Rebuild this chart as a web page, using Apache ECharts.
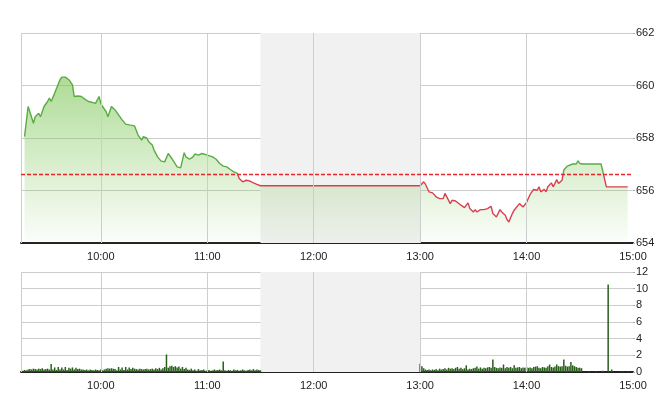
<!DOCTYPE html>
<html><head><meta charset="utf-8">
<script src="https://cdn.jsdelivr.net/npm/echarts@6/dist/echarts.min.js"></script>
<style>html,body{margin:0;padding:0;background:#fff}#c{width:660px;height:412px}</style>
</head><body><div id="c"></div><script>
// ---- data ----
const priceTimes = ['9:17','9:19','9:20','9:22','9:23','9:25','9:26','9:28','9:30','9:31','9:32','9:34','9:35','9:37','9:38','9:40','9:42','9:44','9:45','9:46','9:47','9:49','9:51','9:53','9:55','9:57','9:59','10:00','10:01','10:03','10:04','10:06','10:08','10:10','10:12','10:14','10:16','10:17','10:19','10:20','10:21','10:23','10:24','10:26','10:27','10:29','10:30','10:32','10:34','10:36','10:37','10:38','10:40','10:41','10:43','10:45','10:46','10:47','10:48','10:49','10:50','10:52','10:53','10:55','10:57','10:58','11:00','11:01','11:03','11:05','11:07','11:09','11:11','11:13','11:15','11:17','11:18','11:20','11:22','11:24','11:26','11:28','11:30',
'13:00','13:02','13:03','13:05','13:06','13:07','13:09','13:11','13:13','13:14','13:15','13:17','13:18','13:20','13:21','13:23','13:25','13:27','13:28','13:30','13:31','13:32','13:34','13:36','13:38','13:40','13:41','13:43','13:45','13:46','13:48','13:49','13:50','13:52','13:53','13:54','13:56','13:58','14:00','14:02','14:04','14:06','14:07','14:08','14:10','14:11','14:12','14:14','14:15','14:16','14:17','14:18','14:20','14:21','14:23','14:24','14:26','14:28','14:29','14:30','14:32','14:42','14:45','14:47','14:57'];
const priceValues = [658.05,659.20,659.00,658.56,658.81,658.94,658.81,659.20,659.39,659.52,659.39,659.71,659.64,660.22,660.32,660.32,660.22,660.02,659.58,659.52,659.60,659.58,659.48,659.39,659.36,659.32,659.58,659.32,659.20,659.00,658.81,659.20,659.07,658.88,658.69,658.53,658.50,658.46,658.46,658.43,658.11,657.92,658.05,657.99,657.86,657.73,657.54,657.28,657.12,657.09,657.03,657.41,657.22,657.19,656.90,656.86,656.90,657.44,657.28,657.35,657.19,657.28,657.39,657.35,657.41,657.44,657.35,657.35,657.28,657.19,657.03,656.93,656.90,656.80,656.71,656.65,656.46,656.33,656.39,656.36,656.29,656.23,656.18,
656.18,656.33,656.24,655.95,655.89,655.91,655.76,655.69,655.69,655.89,655.82,655.50,655.63,655.60,655.53,655.44,655.35,655.53,655.31,655.18,655.27,655.18,655.27,655.27,655.31,655.40,655.12,654.99,655.27,655.18,655.06,654.89,654.80,655.12,655.25,655.27,655.50,655.37,655.55,655.85,656.04,656.01,656.14,655.95,656.04,655.95,656.14,656.29,656.14,656.27,656.42,656.27,656.39,656.78,656.93,656.93,657.01,657.01,657.13,657.03,657.01,657.01,656.14,656.14,656.14];
const refPrice = 656.6;

const volMorningStart = '9:16';
const volMorning = [0.15,0.25,0.2,0.3,
0.35,0.3,0.4,0.35,0.3,0.4,0.35,0.45,0.3,0.35,
0.4,0.3,0.95,0.3,0.55,0.25,0.6,0.3,0.55,0.3,
0.6,0.25,0.5,0.4,0.55,0.3,0.5,0.35,0.4,0.3,
0.3,0.25,0.3,0.2,0.3,0.25,0.2,0.3,0.25,0.2,
0.3,0.2,0.3,0.4,0.45,0.4,0.45,0.4,0.35,0.2,
0.6,0.3,0.55,0.25,0.6,0.3,0.55,0.35,0.5,0.4,
0.35,0.3,0.4,0.35,0.3,0.35,0.4,0.3,0.35,0.4,
0.3,0.45,0.35,0.5,0.3,0.45,0.6,2.1,0.5,0.7,
0.75,0.6,0.7,0.55,0.65,0.4,0.6,0.35,0.5,0.3,
0.25,0.4,0.2,0.3,0.15,0.35,0.2,0.25,0.3,0.15,
0.2,0.25,0.15,0.2,0.3,0.2,0.25,0.3,0.2,1.25,
0.2,0.15,0.25,0.2,0.15,0.3,0.2,0.25,0.15,0.2,
0.3,0.2,0.15,0.25,0.3,0.2,0.35,0.2,0.3,0.25,
0.2];
const volAfternoonStart = '13:00';
const volAfternoon = [1.0,0.7,0.45,0.3,0.25,0.3,0.2,0.3,0.25,0.35,
0.2,0.4,0.3,0.35,0.45,0.3,0.5,0.4,0.45,0.35,
0.5,0.6,0.4,0.5,0.35,0.45,0.8,0.3,0.4,0.35,
0.45,0.5,0.65,0.4,0.55,0.4,0.5,0.45,0.55,0.6,
0.5,1.5,0.6,0.5,0.45,0.55,0.5,0.9,0.45,0.6,
0.5,0.6,0.45,0.8,0.5,0.55,0.6,0.45,0.55,0.5,
0.6,0.5,0.55,0.45,0.6,0.65,0.7,0.5,0.45,0.6,
0.55,0.5,0.7,0.9,0.6,0.55,0.65,0.9,0.7,0.65,
0.7,1.5,0.75,0.65,0.7,1.2,0.8,0.7,0.6,0.5,
0.5,0.45];
const volCloseTimes = ['14:35','14:39','14:43','14:46','14:48','14:54','14:57'];
const volClose = [0.1,0.1,0.15,10.5,0.3,0.1,0.1];

const sessionRange = ['9:15','15:00'];
const lunchBreak = ['11:30','13:00'];
const xTickLabels = ['10:00','11:00','12:00','13:00','14:00','15:00'];
const priceTicks = [654,656,658,660,662];
const volTicks = [0,2,4,6,8,10,12];

// ---- helpers ----
const toMin = s => { const p = s.split(':').map(Number); return p[0]*60 + p[1]; };
const fmt = v => Math.floor(v/60) + ':' + String(v%60).padStart(2,'0');
const hourMins = xTickLabels.map(toMin);

const priceData = priceTimes.map((t,i) => [toMin(t), priceValues[i]]);
const volData = [];
const ms = toMin(volMorningStart);
volMorning.forEach((v,i) => volData.push([ms+i, v]));
const as = toMin(volAfternoonStart);
volAfternoon.forEach((v,i) => volData.push([as+i, v]));
volCloseTimes.forEach((t,i) => volData.push([toMin(t), volClose[i]]));

const xMin = toMin(sessionRange[0]), xMax = toMin(sessionRange[1]);
const vLines = [xMin].concat(hourMins.filter(v => v < xMax));

const font = "'Liberation Sans', Arial, sans-serif";
const gridColor = '#cdcdcd';
const upColor = '#5aab44', downColor = '#d9404f';

function xAxis(gi){
  return {
    type:'value', gridIndex:gi, min:xMin, max:xMax, interval:15,
    axisLine:{show:true, onZero:false, lineStyle:{color:'#222', width:2}},
    axisTick:{show:false},
    splitLine:{show:false},
    axisLabel:{fontFamily:font, fontSize:11, color:'#222', margin:8,
      formatter: v => hourMins.indexOf(v) >= 0 ? fmt(v) : ''}
  };
}
function yAxis(gi, ticks){
  return {
    type:'value', gridIndex:gi, position:'right', min:ticks[0], max:ticks[ticks.length-1], interval:ticks[1]-ticks[0],
    axisLine:{show:false},
    axisTick:{show:true, length:2, lineStyle:{color:'#aaa'}},
    splitLine:{show:true, lineStyle:{color:gridColor, width:1}},
    axisLabel:{fontFamily:font, fontSize:11, color:'#222', margin:3}
  };
}
function helper(gi, withRef){
  const lines = vLines.map(v => ({xAxis:v, lineStyle:{color:gridColor, width:1, type:'solid'}}));
  if (withRef) lines.push({yAxis:refPrice, lineStyle:{color:'#e8262a', width:1.3, type:[4,2]}});
  return {
    type:'line', xAxisIndex:gi, yAxisIndex:gi, data:[], z:1, silent:true,
    markArea:{silent:true, itemStyle:{color:'#f1f1f1'}, data:[[{xAxis:toMin(lunchBreak[0])},{xAxis:toMin(lunchBreak[1])}]]},
    markLine:{silent:true, symbol:['none','none'], label:{show:false}, animation:false, data:lines}
  };
}

const chart = echarts.init(document.getElementById('c'));
const grids = [
  {left:21, right:27, top:33, height:210},
  {left:21, right:27, top:272, height:100}
];
chart.setOption({
  animation:false,
  backgroundColor:'#fff',
  grid:grids,
  xAxis:[xAxis(0), xAxis(1)],
  yAxis:[yAxis(0, priceTicks), yAxis(1, volTicks)],
  series:[
    helper(0, true),
    {id:'price', type:'line', xAxisIndex:0, yAxisIndex:0, data:priceData, z:3, showSymbol:false, symbol:'none',
      lineStyle:{width:1.4, color:upColor},
      areaStyle:{origin:'start', opacity:1, color:new echarts.graphic.LinearGradient(0,0,0,1,[
        {offset:0, color:'rgba(125,198,85,0.62)'},
        {offset:0.55, color:'rgba(125,198,85,0.28)'},
        {offset:1, color:'rgba(125,198,85,0.03)'}])}},
    helper(1, false),
    {type:'bar', xAxisIndex:1, yAxisIndex:1, data:volData, z:3, barWidth:1.5, itemStyle:{color:'#28601b'}}
  ]
});
// split line colour at the reference price using the axis' own pixel mapping
const yRef = chart.convertToPixel({yAxisIndex:0}, refPrice);
const yTop = grids[0].top, yBot = grids[0].top + grids[0].height;
const off = Math.min(1, Math.max(0, (yRef - yTop) / (yBot - yTop)));
chart.setOption({series:[{id:'price', lineStyle:{color:new echarts.graphic.LinearGradient(0, yTop, 0, yBot, [
  {offset:0, color:upColor},{offset:off, color:upColor},{offset:off, color:downColor},{offset:1, color:downColor}], true)}}]});
</script></body></html>
